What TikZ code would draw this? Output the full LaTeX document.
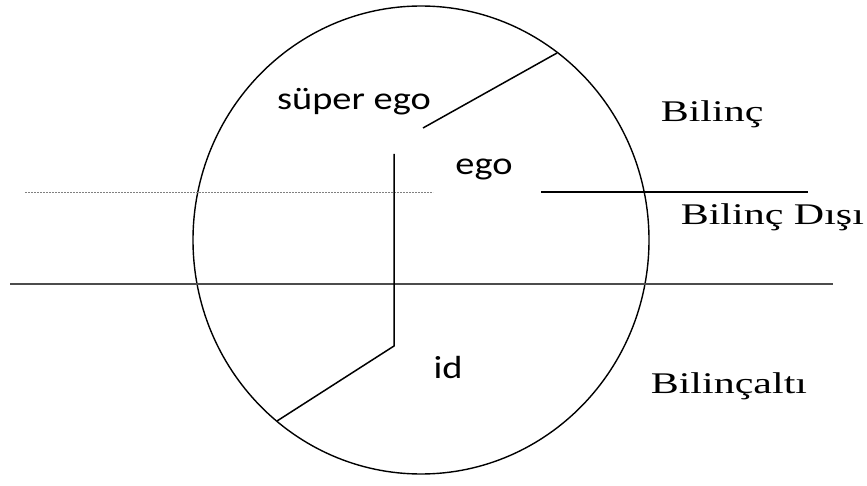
\documentclass[tikz,border=0pt]{standalone}
\usepackage{fontspec}
\setmainfont{Liberation Serif}
\newfontfamily\calib{Carlito}
\usepackage{tikz}
\newcommand\widetext[2]{\scalebox{#1}[1]{#2}}

\begin{document}
\begin{tikzpicture}[x=1pt,y=-1pt,line width=1.5pt,
  part/.style={anchor=base,inner sep=0pt,font=\calib\fontsize{32}{36}\selectfont},
  level/.style={anchor=base west,inner sep=0pt,font=\fontsize{30}{34}\selectfont}]
  \useasboundingbox (0,0) rectangle (867,486);
  % mind as an ellipse
  \draw[line width=1.4pt] (421,240) ellipse [x radius=228, y radius=234];
  % layer borders
  \draw[gray!60!black,line width=1.8pt] (10,284) -- (833,284);
  \draw[gray,line width=0.6pt,dash pattern=on 2pt off 1pt] (25,192) -- (433,192);
  \draw (541,192) -- (808,192);
  % parts of the personality
  \draw (423,128) -- (557,53);
  \draw (394,154) -- (394,346) -- (277,421);
  \node[part] (superego) at (354,110) {\widetext{1.2}{süper ego}};
  \node[part] (ego) at (484,175) {\widetext{1.2}{ego}};
  \node[part] (id) at (448,378) {\widetext{1.2}{id}};
  \node[level] (bilinc) at (660,122) {\widetext{1.4}{Bilinç}};
  \node[level] (disi) at (680,225) {\widetext{1.4}{Bilinç Dışı}};
  \node[level] (alti) at (650,393) {\widetext{1.4}{Bilinçaltı}};
\end{tikzpicture}
\end{document}
